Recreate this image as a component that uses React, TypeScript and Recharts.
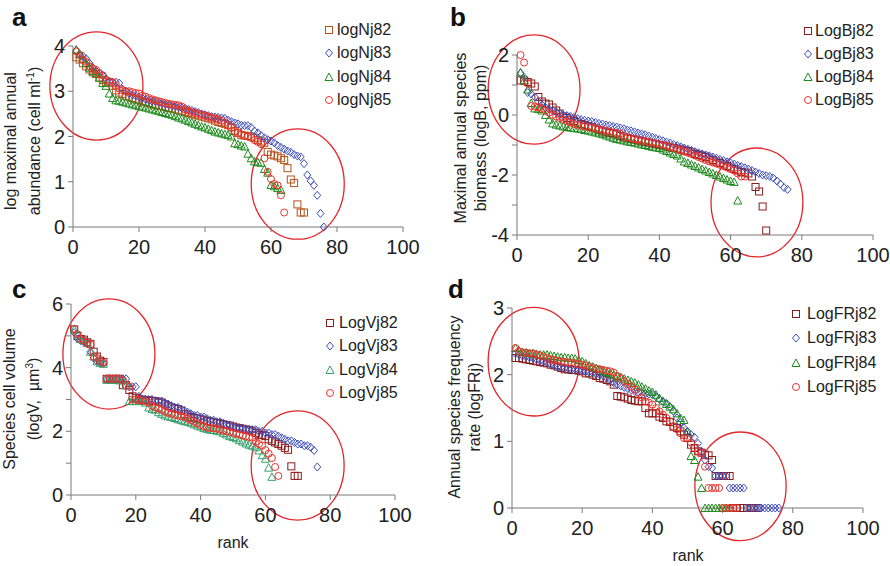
import React from "react";
import { ScatterChart, Scatter, XAxis, YAxis, ReferenceArea } from "recharts";

const FONT = '"Liberation Sans", Arial, Helvetica, sans-serif';

// ranks on the x axis: value i of each list belongs to rank i + 1
const xTicks = [0, 20, 40, 60, 80, 100];

// panel a: log maximal annual abundance
const logNj82 = [
  3.75, 3.7, 3.62, 3.55, 3.48, 3.42, 3.38, 3.3, 3.25, 3.2,
  3.18, 3.12, 3.02, 2.97, 2.94, 2.9, 2.88, 2.85, 2.82, 2.8,
  2.78, 2.76, 2.74, 2.72, 2.7, 2.68, 2.67, 2.65, 2.63, 2.62,
  2.6, 2.58, 2.56, 2.54, 2.52, 2.5, 2.48, 2.46, 2.44, 2.42,
  2.4, 2.38, 2.35, 2.32, 2.3, 2.28, 2.25, 2.2, 2.12, 2.08,
  2.03, 2.02, 2.01, 2.0, 1.97, 1.92, 1.89, 1.86, 1.66, 1.6,
  1.58, 1.56, 1.52, 1.48, 1.3, 1.05, 0.97, 0.5, 0.32, 0.32,
];
const logNj83 = [
  3.9, 3.82, 3.78, 3.72, 3.62, 3.52, 3.45, 3.4, 3.35, 3.28,
  3.22, 3.2, 3.2, 3.18, 3.05, 3.0, 2.95, 2.92, 2.9, 2.87,
  2.85, 2.82, 2.8, 2.78, 2.77, 2.75, 2.73, 2.71, 2.7, 2.68,
  2.66, 2.65, 2.63, 2.62, 2.6, 2.58, 2.55, 2.53, 2.5, 2.48,
  2.46, 2.44, 2.43, 2.42, 2.41, 2.4, 2.36, 2.33, 2.3, 2.28,
  2.25, 2.24, 2.24, 2.2, 2.12, 2.08, 2.02, 1.97, 1.93, 1.9,
  1.86, 1.8, 1.76, 1.72, 1.68, 1.65, 1.6, 1.57, 1.55, 1.4,
  1.15, 1.02, 0.92, 0.7, 0.3, 0.0,
];
const logNj84 = [
  3.92, 3.82, 3.72, 3.62, 3.52, 3.45, 3.4, 3.3, 3.18, 3.12,
  2.95, 2.85, 2.8, 2.79, 2.77, 2.75, 2.73, 2.71, 2.69, 2.67,
  2.66, 2.64, 2.62, 2.6, 2.58, 2.56, 2.54, 2.52, 2.5, 2.48,
  2.45, 2.42, 2.4, 2.37, 2.34, 2.31, 2.28, 2.25, 2.22, 2.2,
  2.17, 2.14, 2.11, 2.09, 2.07, 2.05, 2.03, 2.0, 1.85, 1.83,
  1.8, 1.78, 1.62, 1.52, 1.45, 1.43, 1.42, 1.28, 1.2, 0.93,
  0.9, 0.86, 0.82,
];
const logNj85 = [
  3.88, 3.8, 3.7, 3.65, 3.55, 3.5, 3.47, 3.4, 3.35, 3.25,
  3.22, 3.2, 3.12, 3.06, 3.02, 3.0, 3.0, 2.98, 2.96, 2.95,
  2.9, 2.88, 2.85, 2.82, 2.8, 2.78, 2.76, 2.74, 2.72, 2.71,
  2.7, 2.69, 2.66, 2.6, 2.57, 2.54, 2.52, 2.5, 2.48, 2.46,
  2.44, 2.42, 2.4, 2.38, 2.35, 2.3, 2.25, 2.2, 2.12, 2.08,
  2.05, 2.02, 2.0, 1.97, 1.92, 1.88, 1.83, 1.52, 1.22, 1.06,
  0.95, 0.92, 0.7, 0.32,
];

// panel b: maximal annual species biomass
const logBj82 = [
  1.15, 1.15, 1.1, 1.05, 0.95, 0.6, 0.45, 0.38, 0.35, 0.25,
  0.15, 0.05, -0.05, -0.1, -0.15, -0.2, -0.25, -0.3, -0.33, -0.37,
  -0.4, -0.45, -0.5, -0.55, -0.58, -0.6, -0.62, -0.65, -0.7, -0.75,
  -0.78, -0.8, -0.82, -0.85, -0.88, -0.9, -0.92, -0.95, -0.97, -1.0,
  -1.02, -1.05, -1.08, -1.1, -1.12, -1.15, -1.18, -1.2, -1.25, -1.3,
  -1.33, -1.36, -1.4, -1.45, -1.5, -1.55, -1.6, -1.65, -1.7, -1.75,
  -1.8, -1.85, -1.9, -1.92, -1.95, -2.05, -2.4, -2.55, -3.05, -3.85,
];
const logBj83 = [
  1.4, 1.25, 0.75, 0.7, 0.6, 0.45, 0.35, 0.25, 0.2, 0.15,
  0.1, 0.05, 0.0, -0.02, -0.05, -0.08, -0.12, -0.15, -0.18, -0.2,
  -0.22, -0.25, -0.28, -0.3, -0.33, -0.35, -0.38, -0.4, -0.43, -0.46,
  -0.5, -0.53, -0.56, -0.6, -0.63, -0.66, -0.7, -0.74, -0.78, -0.82,
  -0.86, -0.9, -0.94, -0.98, -1.02, -1.06, -1.1, -1.14, -1.18, -1.22,
  -1.26, -1.3, -1.33, -1.36, -1.4, -1.44, -1.48, -1.52, -1.56, -1.6,
  -1.64, -1.68, -1.72, -1.76, -1.8, -1.85, -1.9, -1.95, -2.0, -2.02,
  -2.05, -2.1, -2.2, -2.3, -2.42, -2.48,
];
const logBj84 = [
  1.42, 1.15, 0.85, 0.4, 0.22, 0.2, 0.15, 0.0, -0.15, -0.28,
  -0.32, -0.35, -0.38, -0.4, -0.42, -0.43, -0.45, -0.47, -0.5, -0.52,
  -0.55, -0.58, -0.61, -0.64, -0.68, -0.72, -0.76, -0.8, -0.82, -0.85,
  -0.88, -0.9, -0.92, -0.95, -0.98, -1.0, -1.03, -1.06, -1.08, -1.1,
  -1.15, -1.2, -1.25, -1.3, -1.35, -1.45, -1.55, -1.6, -1.65, -1.7,
  -1.75, -1.8, -1.85, -1.9, -1.95, -2.0, -2.05, -2.1, -2.15, -2.2,
  -2.23, -2.85,
];
const logBj85 = [
  2.0, 1.75, 1.05, 0.3, 0.28, 0.25, 0.2, 0.15, 0.08, 0.0,
  -0.05, -0.1, -0.15, -0.2, -0.25, -0.3, -0.33, -0.36, -0.38, -0.4,
  -0.42, -0.45, -0.48, -0.5, -0.52, -0.55, -0.58, -0.6, -0.62, -0.7,
  -0.75, -0.78, -0.8, -0.82, -0.85, -0.88, -0.9, -0.92, -0.95, -0.98,
  -1.0, -1.03, -1.06, -1.1, -1.14, -1.18, -1.22, -1.26, -1.3, -1.35,
  -1.4, -1.45, -1.5, -1.55, -1.58, -1.62, -1.66, -1.7, -1.75, -1.8,
  -1.85, -1.95, -2.05, -2.05,
];

// panel c: species cell volume
const logVj82 = [
  5.2, 5.0, 4.9, 4.88, 4.8, 4.75, 4.5, 4.35, 4.22, 4.18,
  3.65, 3.65, 3.65, 3.65, 3.65, 3.45, 3.45, 3.3, 3.1, 3.05,
  3.0, 3.0, 2.98, 2.97, 2.96, 2.95, 2.93, 2.9, 2.85, 2.8,
  2.75, 2.72, 2.7, 2.65, 2.55, 2.5, 2.45, 2.42, 2.4, 2.38,
  2.35, 2.32, 2.3, 2.28, 2.26, 2.24, 2.22, 2.2, 2.18, 2.15,
  2.12, 2.1, 2.08, 2.06, 2.04, 2.0, 1.95, 1.9, 1.88, 1.85,
  1.75, 1.7, 1.65, 1.6, 1.55, 1.48, 1.42, 0.9, 0.6, 0.6,
];
const logVj83 = [
  5.1, 4.9, 4.85, 4.8, 4.75, 4.5, 4.3, 4.2, 4.15, 4.15,
  3.65, 3.65, 3.65, 3.65, 3.65, 3.65, 3.65, 3.4, 3.4, 3.4,
  3.1, 3.0, 3.0, 3.0, 3.0, 2.95, 2.95, 2.95, 2.9, 2.85,
  2.8, 2.75, 2.75, 2.7, 2.65, 2.6, 2.55, 2.5, 2.5, 2.45,
  2.45, 2.4, 2.35, 2.35, 2.3, 2.3, 2.25, 2.2, 2.2, 2.15,
  2.1, 2.1, 2.1, 2.05, 2.05, 2.05, 2.05, 2.0, 2.0, 1.95,
  1.95, 1.9, 1.9, 1.85, 1.8, 1.75, 1.7, 1.7, 1.65, 1.6,
  1.6, 1.55, 1.55, 1.5, 1.4, 0.88,
];
const logVj84 = [
  5.2, 5.05, 4.9, 4.85, 4.78, 4.5, 4.35, 4.2, 4.15, 4.12,
  3.62, 3.62, 3.62, 3.62, 3.6, 3.6, 3.45, 2.95, 2.95, 2.95,
  2.95, 2.95, 2.9, 2.75, 2.7, 2.68, 2.6, 2.55, 2.5, 2.47,
  2.45, 2.42, 2.38, 2.35, 2.32, 2.3, 2.27, 2.22, 2.18, 2.15,
  2.1, 2.08, 2.05, 2.04, 2.02, 2.0, 1.95, 1.9, 1.85, 1.82,
  1.78, 1.72, 1.68, 1.62, 1.58, 1.55, 1.5, 1.4, 1.25, 1.14,
  0.86, 0.57,
];
const logVj85 = [
  5.22, 5.05, 4.9, 4.85, 4.78, 4.72, 4.35, 4.3, 4.2, 4.15,
  3.65, 3.65, 3.65, 3.65, 3.65, 3.6, 3.45, 3.4, 3.0, 3.0,
  2.98, 2.96, 2.95, 2.9, 2.8, 2.75, 2.72, 2.68, 2.62, 2.58,
  2.55, 2.52, 2.5, 2.48, 2.45, 2.4, 2.35, 2.3, 2.25, 2.2,
  2.15, 2.12, 2.1, 2.09, 2.08, 2.05, 2.02, 2.0, 1.98, 1.95,
  1.92, 1.9, 1.87, 1.84, 1.82, 1.8, 1.67, 1.6, 1.55, 1.41,
  1.3, 1.16, 0.88, 0.6,
];

// panel d: annual species frequency rate
const logFRj82 = [
  2.25, 2.25, 2.24, 2.23, 2.22, 2.21, 2.2, 2.19, 2.18, 2.17,
  2.15, 2.14, 2.12, 2.1, 2.08, 2.08, 2.07, 2.07, 2.06, 2.05,
  2.02, 2.02, 2.0, 1.98, 1.95, 1.94, 1.92, 1.9, 1.85, 1.68,
  1.67, 1.66, 1.64, 1.62, 1.61, 1.6, 1.6, 1.5, 1.42, 1.42,
  1.42, 1.37, 1.35, 1.3, 1.29, 1.22, 1.2, 1.15, 1.1, 1.05,
  0.95, 0.9, 0.85, 0.83, 0.8, 0.79, 0.72, 0.48, 0.48, 0.48,
  0.48, 0.48, 0.0, 0.0, 0.0, 0.0, 0.0, 0.0, 0.0, 0.0,
];
const logFRj83 = [
  2.32, 2.3, 2.28, 2.27, 2.26, 2.25, 2.23, 2.21, 2.2, 2.18,
  2.16, 2.14, 2.12, 2.11, 2.1, 2.09, 2.08, 2.08, 2.07, 2.06,
  2.05, 2.04, 2.03, 2.01, 2.0, 1.98, 1.95, 1.92, 1.88, 1.85,
  1.83, 1.81, 1.79, 1.77, 1.75, 1.74, 1.73, 1.72, 1.71, 1.7,
  1.67, 1.63, 1.6, 1.57, 1.52, 1.45, 1.35, 1.28, 1.2, 1.15,
  1.1, 1.06, 0.97, 0.85, 0.72, 0.62, 0.6, 0.48, 0.48, 0.48,
  0.48, 0.3, 0.3, 0.3, 0.3, 0.3, 0.0, 0.0, 0.0, 0.0,
  0.0, 0.0, 0.0, 0.0, 0.0, 0.0,
];
const logFRj84 = [
  2.4, 2.36, 2.34, 2.33, 2.32, 2.32, 2.31, 2.3, 2.3, 2.3,
  2.29, 2.28, 2.27, 2.26, 2.26, 2.25, 2.25, 2.24, 2.22, 2.2,
  2.17, 2.14, 2.12, 2.1, 2.08, 2.06, 2.04, 2.02, 2.0, 1.98,
  1.96, 1.94, 1.92, 1.9, 1.88, 1.85, 1.82, 1.79, 1.76, 1.74,
  1.7, 1.65, 1.6, 1.56, 1.52, 1.48, 1.42, 1.35, 1.32, 1.14,
  0.78, 0.72, 0.47, 0.3, 0.0, 0.0, 0.0, 0.0, 0.0, 0.0,
  0.0, 0.0,
];
const logFRj85 = [
  2.4, 2.35, 2.33, 2.33, 2.32, 2.32, 2.3, 2.29, 2.27, 2.25,
  2.23, 2.22, 2.21, 2.2, 2.19, 2.18, 2.18, 2.17, 2.16, 2.15,
  2.14, 2.12, 2.1, 2.09, 2.08, 2.07, 2.06, 2.05, 2.03, 1.98,
  1.95, 1.9, 1.86, 1.82, 1.78, 1.73, 1.66, 1.6, 1.58, 1.55,
  1.5, 1.45, 1.4, 1.35, 1.3, 1.22, 1.18, 1.12, 1.05, 1.04,
  0.98, 0.9, 0.85, 0.82, 0.62, 0.3, 0.3, 0.3, 0.3, 0.0,
  0.0, 0.0, 0.0, 0.0,
];

// red ellipses drawn over each panel, as [x1, x2, y1, y2] in data units
const ellipsesA = [[-7, 21.2, 1.92, 4.31], [54, 82.2, -0.27, 2.17]];
const ellipsesB = [[-8.1, 17.7, -0.97, 2.67], [54.5, 80.3, -4.73, -1.1]];
const ellipsesC = [[-2.5, 25.9, 2.7, 6.16], [55.6, 84.3, -0.79, 2.64]];
const ellipsesD = [[-6.8, 19.1, 1.38, 3.01], [52.1, 78.1, -0.49, 1.14]];

const BLUE = "#3b4cc0";
const RED = "#e8332b";
const GREEN = "#1e8c1e";
const TEAL = "#35a06c";
const BROWN = "#b5531c";
const DARKRED = "#8b1c1c";

type Marker = "square" | "diamond" | "triangle" | "circle";

interface SeriesDef {
  name: string;
  values: number[];
  color: string;
  marker: Marker;
}

function MarkerShape({ kind, cx, cy, color }: { kind: Marker; cx: number; cy: number; color: string }) {
  const common = { fill: "none", stroke: color, strokeWidth: 1 };
  if (kind === "square") return <rect x={cx - 3.5} y={cy - 3.5} width={7} height={7} {...common} />;
  if (kind === "diamond")
    return <polygon points={`${cx},${cy - 4} ${cx + 3.5},${cy} ${cx},${cy + 4} ${cx - 3.5},${cy}`} {...common} />;
  if (kind === "triangle")
    return <polygon points={`${cx},${cy - 4} ${cx + 4},${cy + 3.5} ${cx - 4},${cy + 3.5}`} {...common} />;
  return <circle cx={cx} cy={cy} r={3.5} {...common} />;
}

const toPoints = (values: number[]) => values.map((v, i) => ({ rank: i + 1, v }));

const ellipseShape = (p: any) => (
  <ellipse
    cx={p.x + p.width / 2}
    cy={p.y + p.height / 2}
    rx={Math.abs(p.width) / 2}
    ry={Math.abs(p.height) / 2}
    fill="none"
    stroke="#e3262b"
    strokeWidth={1.3}
  />
);

interface PanelProps {
  left: number;
  top: number;
  height: number;
  margin: { top: number; right: number; bottom: number; left: number };
  yDomain: [number, number];
  yTicks: number[];
  everyOther?: boolean;
  series: SeriesDef[];
  ellipses: number[][];
}

function Panel({ left, top, height, margin, yDomain, yTicks, everyOther, series, ellipses }: PanelProps) {
  const axisColor = "#7a7a7a";
  const tick = { fill: "#222", fontSize: 20, fontFamily: FONT };
  return (
    <div style={{ position: "absolute", left, top }}>
      <ScatterChart width={445} height={height} margin={margin}>
        <XAxis
          type="number"
          dataKey="rank"
          domain={[0, 100]}
          ticks={xTicks}
          interval={0}
          height={30}
          tick={tick}
          tickSize={5}
          tickMargin={8}
          axisLine={{ stroke: axisColor }}
          tickLine={{ stroke: axisColor }}
        />
        <YAxis
          type="number"
          dataKey="v"
          domain={yDomain}
          ticks={yTicks}
          interval={0}
          width={50}
          tick={tick}
          tickSize={5}
          tickMargin={3}
          axisLine={{ stroke: axisColor }}
          tickLine={{ stroke: axisColor }}
          tickFormatter={(v: number) => (everyOther && v % 2 !== 0 ? "" : String(v))}
        />
        {series.map((s) => (
          <Scatter
            key={s.name}
            name={s.name}
            data={toPoints(s.values)}
            dataKey="v"
            isAnimationActive={false}
            shape={(p: any) => <MarkerShape kind={s.marker} cx={p.cx} cy={p.cy} color={s.color} />}
          />
        ))}
        {ellipses.map((e, i) => (
          <ReferenceArea key={i} x1={e[0]} x2={e[1]} y1={e[2]} y2={e[3]} ifOverflow="visible" shape={ellipseShape} />
        ))}
      </ScatterChart>
    </div>
  );
}

function Legend({ mx, tx, y0, gap, series }: { mx: number; tx: number; y0: number; gap: number; series: SeriesDef[] }) {
  return (
    <>
      {series.map((s, i) => {
        const cy = y0 + i * gap;
        return (
          <React.Fragment key={s.name}>
            <svg style={{ position: "absolute", left: mx - 6, top: cy - 6 }} width={12} height={12}>
              <MarkerShape kind={s.marker} cx={6} cy={6} color={s.color} />
            </svg>
            <div
              style={{
                position: "absolute",
                left: tx,
                top: cy - 10,
                lineHeight: "20px",
                fontSize: 16,
                fontFamily: FONT,
                color: "#222",
                whiteSpace: "nowrap",
              }}
            >
              {s.name}
            </div>
          </React.Fragment>
        );
      })}
    </>
  );
}

function YLabel({ cx, cy, children }: { cx: number; cy: number; children: React.ReactNode }) {
  return (
    <div
      style={{
        position: "absolute",
        left: cx,
        top: cy,
        transform: "translate(-50%, -50%) rotate(-90deg)",
        fontSize: 16,
        lineHeight: "20px",
        fontFamily: FONT,
        color: "#222",
        textAlign: "center",
        whiteSpace: "nowrap",
      }}
    >
      {children}
    </div>
  );
}

function Letter({ x, y, children }: { x: number; y: number; children: React.ReactNode }) {
  return (
    <div
      style={{
        position: "absolute",
        left: x,
        top: y,
        fontSize: 26,
        fontWeight: "bold",
        fontFamily: FONT,
        lineHeight: "26px",
        color: "#111",
      }}
    >
      {children}
    </div>
  );
}

function Rank({ cx, cy }: { cx: number; cy: number }) {
  return (
    <div
      style={{
        position: "absolute",
        left: cx,
        top: cy,
        transform: "translate(-50%, -50%)",
        fontSize: 16,
        fontFamily: FONT,
        color: "#222",
      }}
    >
      rank
    </div>
  );
}

const seriesA: SeriesDef[] = [
  { name: "logNj82", values: logNj82, color: BROWN, marker: "square" },
  { name: "logNj83", values: logNj83, color: BLUE, marker: "diamond" },
  { name: "logNj84", values: logNj84, color: GREEN, marker: "triangle" },
  { name: "logNj85", values: logNj85, color: RED, marker: "circle" },
];
const seriesB: SeriesDef[] = [
  { name: "LogBj82", values: logBj82, color: DARKRED, marker: "square" },
  { name: "LogBj83", values: logBj83, color: BLUE, marker: "diamond" },
  { name: "LogBj84", values: logBj84, color: GREEN, marker: "triangle" },
  { name: "LogBj85", values: logBj85, color: RED, marker: "circle" },
];
const seriesC: SeriesDef[] = [
  { name: "LogVj82", values: logVj82, color: DARKRED, marker: "square" },
  { name: "LogVj83", values: logVj83, color: BLUE, marker: "diamond" },
  { name: "LogVj84", values: logVj84, color: TEAL, marker: "triangle" },
  { name: "LogVj85", values: logVj85, color: RED, marker: "circle" },
];
const seriesD: SeriesDef[] = [
  { name: "LogFRj82", values: logFRj82, color: DARKRED, marker: "square" },
  { name: "LogFRj83", values: logFRj83, color: BLUE, marker: "diamond" },
  { name: "LogFRj84", values: logFRj84, color: GREEN, marker: "triangle" },
  { name: "LogFRj85", values: logFRj85, color: RED, marker: "circle" },
];

export default function App() {
  return (
    <div style={{ position: "absolute", left: 0, top: 0, width: 890, height: 566, background: "#fff", overflow: "hidden" }}>
      <Panel
        left={0}
        top={0}
        height={280}
        margin={{ top: 46, right: 42, bottom: 23, left: 23 }}
        yDomain={[0, 4]}
        yTicks={[0, 1, 2, 3, 4]}
        series={seriesA}
        ellipses={ellipsesA}
      />
      <Panel
        left={445}
        top={0}
        height={280}
        margin={{ top: 55, right: 17, bottom: 15, left: 22 }}
        yDomain={[-4, 2]}
        yTicks={[-4, -3, -2, -1, 0, 1, 2]}
        everyOther
        series={seriesB}
        ellipses={ellipsesB}
      />
      <Panel
        left={0}
        top={280}
        height={286}
        margin={{ top: 24, right: 50, bottom: 41, left: 21 }}
        yDomain={[0, 6]}
        yTicks={[0, 1, 2, 3, 4, 5, 6]}
        everyOther
        series={seriesC}
        ellipses={ellipsesC}
      />
      <Panel
        left={445}
        top={280}
        height={286}
        margin={{ top: 28, right: 27, bottom: 28, left: 17 }}
        yDomain={[0, 3]}
        yTicks={[0, 1, 2, 3]}
        series={seriesD}
        ellipses={ellipsesD}
      />

      <Letter x={12} y={4}>a</Letter>
      <Letter x={450} y={4}>b</Letter>
      <Letter x={12} y={276}>c</Letter>
      <Letter x={448} y={276}>d</Letter>

      <YLabel cx={23} cy={141}>
        <div>log maximal annual</div>
        <div>
          abundance (cell ml<sup style={{ fontSize: 10 }}>-1</sup>)
        </div>
      </YLabel>
      <YLabel cx={471} cy={138}>
        <div>Maximal annual species</div>
        <div>biomass (logB, ppm)</div>
      </YLabel>
      <YLabel cx={22} cy={399}>
        <div>Species cell volume</div>
        <div>
          (logV,&nbsp; µm<sup style={{ fontSize: 10 }}>3</sup>)
        </div>
      </YLabel>
      <YLabel cx={465} cy={407}>
        <div>Annual species frequency</div>
        <div>rate (logFRj)</div>
      </YLabel>

      <Rank cx={233} cy={543} />
      <Rank cx={688} cy={556} />

      <Legend mx={329} tx={337} y0={30} gap={23.3} series={seriesA} />
      <Legend mx={808} tx={815} y0={31} gap={23} series={seriesB} />
      <Legend mx={330} tx={339} y0={323} gap={23.3} series={seriesC} />
      <Legend mx={796} tx={807} y0={314} gap={24.3} series={seriesD} />
    </div>
  );
}
